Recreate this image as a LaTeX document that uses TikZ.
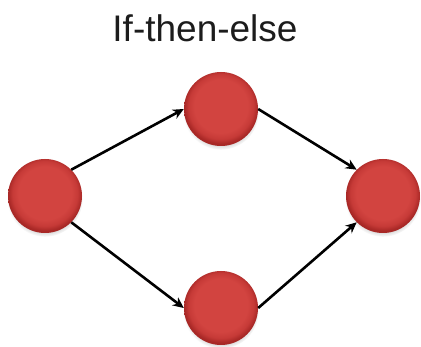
\documentclass[tikz,border=0pt]{standalone}
\usepackage{fontspec}
\setmainfont{Liberation Sans}
\usetikzlibrary{arrows.meta,shadows}
\definecolor{btnred}{RGB}{210,68,64}
\definecolor{btnmid}{RGB}{198,58,55}
\definecolor{btnedge}{RGB}{168,40,38}
\definecolor{titlegray}{RGB}{28,28,28}
% glossy red button: flat face, darker rim
\pgfdeclareradialshading{redbtn}{\pgfpoint{0bp}{3bp}}{%
  color(0bp)=(btnred); color(18bp)=(btnred); color(22bp)=(btnmid);
  color(25bp)=(btnedge); color(50bp)=(btnedge)}
\tikzset{
  state/.style={circle, minimum size=74pt, inner sep=0pt, draw=none,
    shading=redbtn,
    circular drop shadow={shadow xshift=0pt, shadow yshift=-3pt,
      shadow scale=1.02, opacity=0.35}},
  arr/.style={line width=2.6pt, black, -{Stealth[length=11pt,width=10pt]}},
  title/.style={text=titlegray, font=\fontsize{37}{40}\selectfont, inner sep=0pt}
}
\begin{document}
\begin{tikzpicture}[x=1pt,y=-1pt]
\useasboundingbox[fill=white] (0,0) rectangle (421,347);
\node[title, anchor=base] (ttl) at (205,42) {If-then-else};
\node[state] (L) at (45,196) {};
\node[state] (T) at (221,109) {};
\node[state] (B) at (221,308) {};
\node[state] (R) at (383,196) {};
\draw[arr] (L.45) -- (T.west);
\draw[arr] (L.-45) -- (B.west);
\draw[arr] (T.east) -- (R.135);
\draw[arr] (B.east) -- (R.-135);
\end{tikzpicture}
\end{document}
